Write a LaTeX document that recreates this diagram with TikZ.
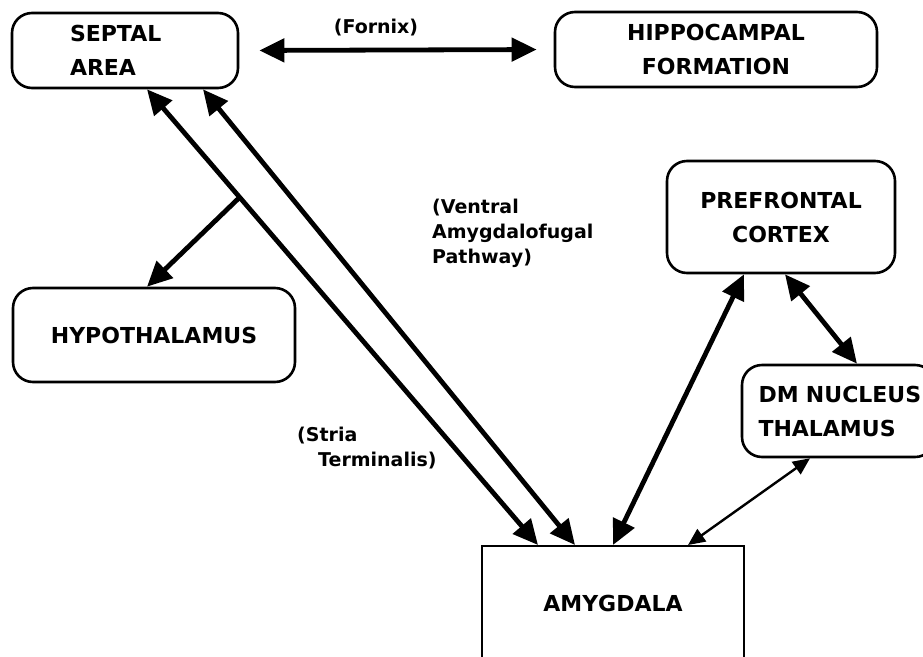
\documentclass[tikz,border=0pt]{standalone}
\usepackage{fontspec}
\setmainfont{DejaVu Sans}
\usetikzlibrary{arrows.meta}

\begin{document}
\begin{tikzpicture}[x=1pt,y=-1pt,
  area/.style={draw,line width=2.6pt,rounded corners=20pt,inner sep=0pt,
    align=center,font=\fontsize{22}{34}\selectfont\bfseries},
  tract/.style={line width=4.8pt,
    {Triangle[length=25pt,width=23pt]}-{Triangle[length=25pt,width=23pt]}},
  branch/.style={line width=4.8pt,-{Triangle[length=25pt,width=23pt]}},
  thin tract/.style={line width=2.4pt,
    {Triangle[length=17pt,width=15pt]}-{Triangle[length=17pt,width=15pt]}},
  path label/.style={inner sep=0pt,align=left,
    font=\fontsize{19}{25}\selectfont\bfseries}]
\useasboundingbox (0,0) rectangle (923,656);

% boxes
\node[area,minimum width=226pt,minimum height=75pt,text width=110pt,align=left] (septal) at (125,50.5) {SEPTAL\\AREA};
\node[area,minimum width=322pt,minimum height=75pt] (hippo) at (716,49.5) {HIPPOCAMPAL\\FORMATION};
\node[area,minimum width=228pt,minimum height=112pt] (pfc) at (781,217) {PREFRONTAL\\CORTEX};
\node[area,minimum width=282pt,minimum height=94pt] (hypo) at (154,335) {HYPOTHALAMUS};
\node[area,minimum width=193pt,minimum height=92pt,text width=160pt,align=left] (dm) at (838.5,411) {\mbox{DM NUCLEUS}\\THALAMUS};
\node[draw,line width=2pt,inner sep=0pt,minimum width=262pt,minimum height=114pt,
  font=\fontsize{22}{34}\selectfont\bfseries] (amyg) at (613,603) {AMYGDALA};

% pathways
\draw[tract,shorten <=20pt,shorten >=17pt] (septal.east) -- (hippo.west);
\draw[tract] ([xshift=22pt]septal.south) -- coordinate[pos=0.237] (fork) ([xshift=-75pt]amyg.north);
\draw[tract] ([xshift=78pt]septal.south) -- ([xshift=-38pt]amyg.north);
\draw[branch] (fork) -- ([xshift=-7pt]hypo.north);
\draw[tract] (amyg.north) -- ([xshift=-37pt]pfc.south);
\draw[tract] ([xshift=4pt]pfc.south) -- ([xshift=18.5pt]dm.north);
\draw[thin tract] ([xshift=-28.5pt]dm.south) -- ([xshift=75pt]amyg.north);

% labels
\node[path label] (fornix) at (376,28) {(Fornix)};
\node[path label,anchor=west] (ventral) at (432,233) {(Ventral\\Amygdalofugal\\Pathway)};
\node[path label,anchor=west] (stria) at (297,448) {(Stria\\\hspace*{21pt}Terminalis)};
\end{tikzpicture}
\end{document}
